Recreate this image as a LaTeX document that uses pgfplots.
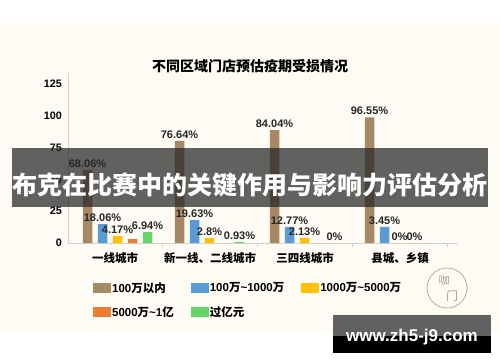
\documentclass[border=0pt]{standalone}
\usepackage{fontspec}
\setmainfont{Liberation Sans}
\newfontfamily\cjk{Noto Sans CJK SC}
\usepackage{pgfplots}
\pgfplotsset{compat=1.18}
\definecolor{cream}{RGB}{253,251,244}
\definecolor{cbrown}{RGB}{166,136,100}
\definecolor{cblue}{RGB}{91,155,213}
\definecolor{cyellow}{RGB}{255,192,0}
\definecolor{corange}{RGB}{237,125,49}
\definecolor{cgreen}{RGB}{102,214,106}
\definecolor{axgray}{RGB}{212,210,204}
\definecolor{stamp}{RGB}{176,156,128}
\pgfplotsset{mybar/.style={ybar, bar width=9.5pt, bar shift=0pt, draw=none, fill=#1,
  legend image code/.code={\fill[#1] (0pt,-5pt) rectangle (18pt,5pt);}}}
\begin{document}
\begin{tikzpicture}[x=1pt,y=1pt]
\useasboundingbox (0,0) rectangle (500,362);
\fill[white] (0,0) rectangle (500,362);
\fill[cream] (0,29) rectangle (500,339);
\node[font=\cjk\bfseries\fontsize{14}{16}\selectfont] at (250,296) {不同区域门店预估疫期受损情况};
\begin{axis}[
  at={(68pt,119pt)}, anchor=south west,
  scale only axis, width=390pt, height=170pt,
  xmin=0, xmax=390, ymin=0, ymax=133.6,
  axis x line*=bottom, axis y line*=left,
  axis line style={-, draw=axgray, line width=0.8pt},
  xtick={47,142,237,332},
  xticklabels={一线城市, {新一线、二线城市}, 三四线城市, {县城、乡镇}},
  xticklabel style={font=\cjk\bfseries\fontsize{11.5}{13}\selectfont, anchor=north, inner sep=0pt, yshift=-9pt},
  major tick length=0pt,
  extra x ticks={94,189,284,379},
  extra x tick labels={},
  extra x tick style={major tick length=4pt, tick align=outside, tick style={draw=axgray, line width=0.8pt}},
  ytick={0,25,50,75,100,125},
  yticklabel style={font=\bfseries\fontsize{10.8}{12}\selectfont, anchor=east, inner sep=0pt, xshift=-6pt},
  /pgf/number format/assume math mode=true,
  point meta=explicit symbolic,
  nodes near coords,
  every node near coord/.append style={font=\bfseries\fontsize{11}{12}\selectfont, inner sep=2pt, anchor=south, text=black!85},
  legend columns=3,
  legend style={at={(rel axis cs:0.064,-0.2235)}, anchor=north west, draw=none, fill=none, inner sep=0pt,
    font=\bfseries\fontsize{11.5}{13}\selectfont, row sep=11pt,
    nodes={inner sep=1pt, anchor=west},
    /tikz/every even column/.append style={column sep=16pt}},
]
\addplot[mybar=cbrown] coordinates {(19.5,57.4)[68.06\%] (111.5,80.2)[76.64\%] (206.5,88.8)[84.04\%] (301.5,98.8)[96.55\%]};
\addplot[mybar=cblue] coordinates {(34.5,14.9)[18.06\%] (126.5,18.1)[19.63\%] (221.5,12.6)[12.77\%] (316.5,12.6)[3.45\%]};
\addplot[mybar=cyellow] coordinates {(49.5,5.5)[4.17\%] (141.5,3.9)[2.8\%] (236.5,3.9)[2.13\%] (331.5,0)[0\%]};
\addplot[mybar=corange] coordinates {(64.5,3.1)[] (156.5,0)[] (251.5,0)[] (346.5,0)[0\%]};
\addplot[mybar=cgreen] coordinates {(79.5,8.6)[6.94\%] (171.5,0.8)[0.93\%] (266.5,0)[0\%] (361.5,0)[]};
\legend{100{\cjk 万以内}, 100{\cjk 万}\textasciitilde1000{\cjk 万}, 1000{\cjk 万}\textasciitilde5000{\cjk 万}, 5000{\cjk 万}\textasciitilde1{\cjk 亿}, {\cjk 过亿元}}
\end{axis}
% stamp
\draw[stamp, line width=0.6pt] (447,74) circle (20);
\node[stamp, font=\cjk\fontsize{11}{12}\selectfont] at (444,82) {咖};
\node[stamp, font=\cjk\fontsize{12}{13}\selectfont] at (452,66) {门};
% banner
\fill[black!85, opacity=0.72] (12,155) rectangle (488,214);
\node[white, font=\cjk\bfseries\fontsize{25}{27}\selectfont] at (250,177) {布克在比赛中的关键作用与影响力评估分析};
% watermark
\fill[black!62] (333,26) rectangle (491,47);
\fill[black] (333,9) rectangle (491,26);
\node[white, font=\bfseries\fontsize{17}{19}\selectfont] at (412,25) {www.zh5-j9.com};
\end{tikzpicture}
\end{document}
